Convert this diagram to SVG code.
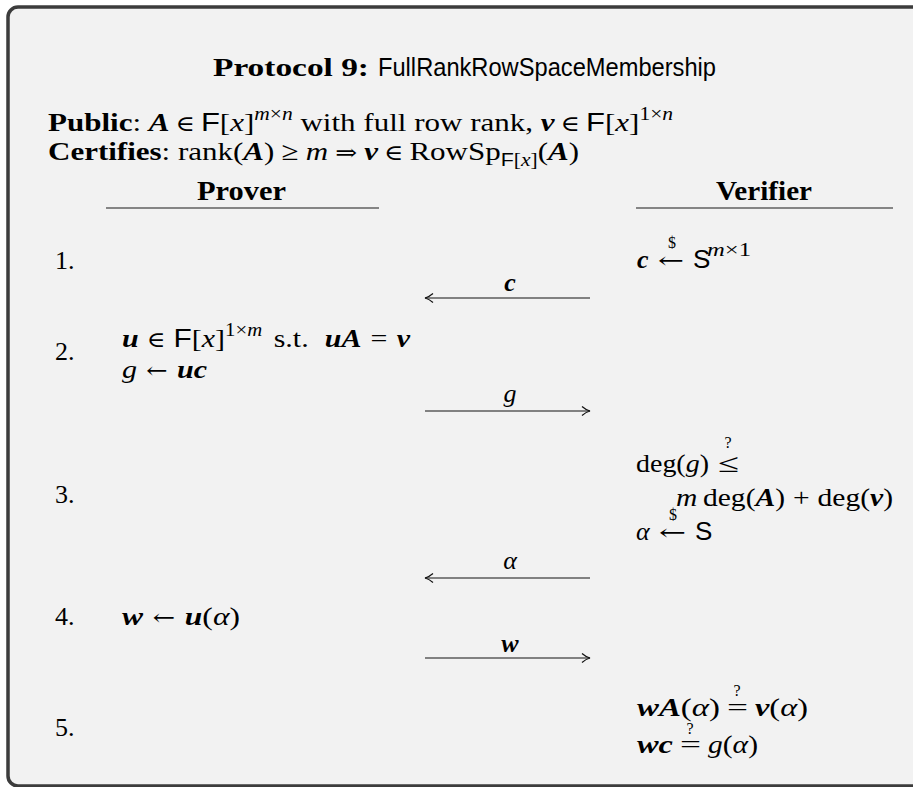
<svg xmlns="http://www.w3.org/2000/svg" width="913" height="787" viewBox="0 0 913 787">
<style>
text{font-family:"Liberation Serif",serif;font-size:26px;fill:#000}
.b{font-weight:bold}
.i{font-style:italic}
.bi{font-weight:bold;font-style:italic}
.sf{font-family:"Liberation Sans",sans-serif;font-style:normal;font-weight:normal}
.dj{font-family:"DejaVu Serif",serif;font-size:22px;font-style:normal;font-weight:normal}
.sup{font-size:18px}
.sm{font-size:16px}
.hd{font-weight:bold;font-size:27px}
.ul{stroke:#606060;stroke-width:1.4}
.ar{stroke:#111;stroke-width:1.2;fill:none;marker-end:url(#ah)}
.mid{text-anchor:middle}
</style>
<defs>
<marker id="ah" viewBox="-10 -6 12 12" refX="0" refY="0" markerWidth="12" markerHeight="12" markerUnits="userSpaceOnUse" orient="auto"><path d="M-8,-4.5 Q-4,-1 0,0 Q-4,1 -8,4.5" fill="none" stroke="#111" stroke-width="1.2"/></marker>
</defs>
<rect x="0" y="0" width="913" height="787" fill="#ffffff"/>
<rect x="8" y="7" width="940" height="779" rx="10" fill="#f2f2f2" stroke="#3c3c3c" stroke-width="3.5"/>

<g id="header">
<text x="213" y="76" class="b" font-size="28" textLength="156" lengthAdjust="spacingAndGlyphs">Protocol 9:</text>
<text x="378" y="76" class="sf" font-size="24" textLength="338" lengthAdjust="spacingAndGlyphs">FullRankRowSpaceMembership</text>
<text x="48" y="131" textLength="625" lengthAdjust="spacingAndGlyphs"><tspan class="b">Public</tspan>: <tspan class="bi">A</tspan><tspan class="dj" dx="5">∈</tspan><tspan class="sf" dx="5">F</tspan>[<tspan class="i">x</tspan>]<tspan class="i sup" dy="-11">m</tspan><tspan class="sup">×</tspan><tspan class="i sup">n</tspan><tspan dy="11"> with full row rank, </tspan><tspan class="bi">v</tspan><tspan class="dj" dx="5">∈</tspan><tspan class="sf" dx="5">F</tspan>[<tspan class="i">x</tspan>]<tspan class="sup" dy="-11">1×</tspan><tspan class="i sup">n</tspan></text>
<text x="48" y="160" textLength="531" lengthAdjust="spacingAndGlyphs"><tspan class="b">Certifies</tspan>: rank(<tspan class="bi">A</tspan>)<tspan dx="6">≥</tspan><tspan class="i" dx="6">m</tspan><tspan class="dj" dx="6">⇒</tspan><tspan class="bi" dx="6">v</tspan><tspan class="dj" dx="5">∈</tspan><tspan dx="5">RowSp</tspan><tspan class="sf sup" dy="6">F</tspan><tspan class="sup">[</tspan><tspan class="i sup">x</tspan><tspan class="sup">]</tspan><tspan dy="-6">(</tspan><tspan class="bi">A</tspan>)</text>
</g>

<g id="prover-head">
<text x="197" y="200" class="hd" textLength="89" lengthAdjust="spacingAndGlyphs">Prover</text>
<line x1="106" y1="208" x2="379" y2="208" class="ul"/>
</g>
<g id="verifier-head">
<text x="716" y="200" class="hd" textLength="96" lengthAdjust="spacingAndGlyphs">Verifier</text>
<line x1="636" y1="208" x2="893" y2="208" class="ul"/>
</g>

<g id="steps">
<text x="55" y="269">1.</text>
<text x="55" y="360">2.</text>
<text x="55" y="503">3.</text>
<text x="55" y="625">4.</text>
<text x="55" y="736">5.</text>
</g>

<g id="verifier-1">
<text x="637" y="268" class="bi">c</text>
<text x="658" y="268" class="dj" textLength="26" lengthAdjust="spacingAndGlyphs">←</text>
<text x="672" y="248" class="sm mid">$</text>
<text x="693" y="268" class="sf">S</text>
<text x="707" y="256" class="sup" textLength="44" lengthAdjust="spacingAndGlyphs"><tspan class="i">m</tspan>×1</text>
</g>

<g id="prover-2">
<text x="122" y="347" textLength="288" lengthAdjust="spacingAndGlyphs"><tspan class="bi">u</tspan><tspan class="dj" dx="7">∈</tspan><tspan class="sf" dx="7">F</tspan>[<tspan class="i">x</tspan>]<tspan class="sup" dy="-11">1×</tspan><tspan class="i sup">m</tspan><tspan dy="11" dx="10">s.t.</tspan><tspan class="bi" dx="14">uA</tspan><tspan dx="8">=</tspan><tspan class="bi" dx="8">v</tspan></text>
<text x="122" y="378" textLength="85" lengthAdjust="spacingAndGlyphs"><tspan class="i">g</tspan><tspan class="dj" dx="8">←</tspan><tspan class="bi" dx="8">uc</tspan></text>
</g>

<g id="verifier-3">
<text x="728" y="448" class="sm mid">?</text>
<text x="636" y="472" textLength="73" lengthAdjust="spacingAndGlyphs">deg(<tspan class="i">g</tspan>)</text>
<text x="718" y="472" textLength="21" lengthAdjust="spacingAndGlyphs">≤</text>
<text x="676" y="506" textLength="217" lengthAdjust="spacingAndGlyphs"><tspan class="i">m</tspan><tspan dx="5">deg(</tspan><tspan class="bi">A</tspan>)<tspan dx="7">+</tspan><tspan dx="7">deg(</tspan><tspan class="bi">v</tspan>)</text>
<text x="636" y="540" class="i">α</text>
<text x="659" y="540" class="dj" textLength="27" lengthAdjust="spacingAndGlyphs">←</text>
<text x="673" y="520" class="sm mid">$</text>
<text x="695" y="540" class="sf">S</text>
</g>

<g id="prover-4">
<text x="122" y="625" textLength="118" lengthAdjust="spacingAndGlyphs"><tspan class="bi">w</tspan><tspan class="dj" dx="8">←</tspan><tspan class="bi" dx="8">u</tspan>(<tspan class="i">α</tspan>)</text>
</g>

<g id="verifier-5">
<text x="737" y="696" class="sm mid">?</text>
<text x="637" y="716" textLength="83" lengthAdjust="spacingAndGlyphs"><tspan class="bi">wA</tspan>(<tspan class="i">α</tspan>)</text>
<text x="727" y="716" textLength="21" lengthAdjust="spacingAndGlyphs">=</text>
<text x="755" y="716" textLength="53" lengthAdjust="spacingAndGlyphs"><tspan class="bi">v</tspan>(<tspan class="i">α</tspan>)</text>
<text x="690" y="734" class="sm mid">?</text>
<text x="637" y="753" class="bi" textLength="36" lengthAdjust="spacingAndGlyphs">wc</text>
<text x="680" y="753" textLength="21" lengthAdjust="spacingAndGlyphs">=</text>
<text x="708" y="753" textLength="50" lengthAdjust="spacingAndGlyphs"><tspan class="i">g</tspan>(<tspan class="i">α</tspan>)</text>
</g>

<g id="connectors">
<line x1="590" y1="298" x2="425" y2="298" class="ar"/>
<text x="510" y="291" class="bi mid">c</text>
<line x1="425" y1="411" x2="590" y2="411" class="ar"/>
<text x="510" y="402" class="i mid">g</text>
<line x1="590" y1="578" x2="425" y2="578" class="ar"/>
<text x="510" y="569" class="i mid">α</text>
<line x1="425" y1="658" x2="590" y2="658" class="ar"/>
<text x="510" y="652" class="bi mid">w</text>
</g>
</svg>
